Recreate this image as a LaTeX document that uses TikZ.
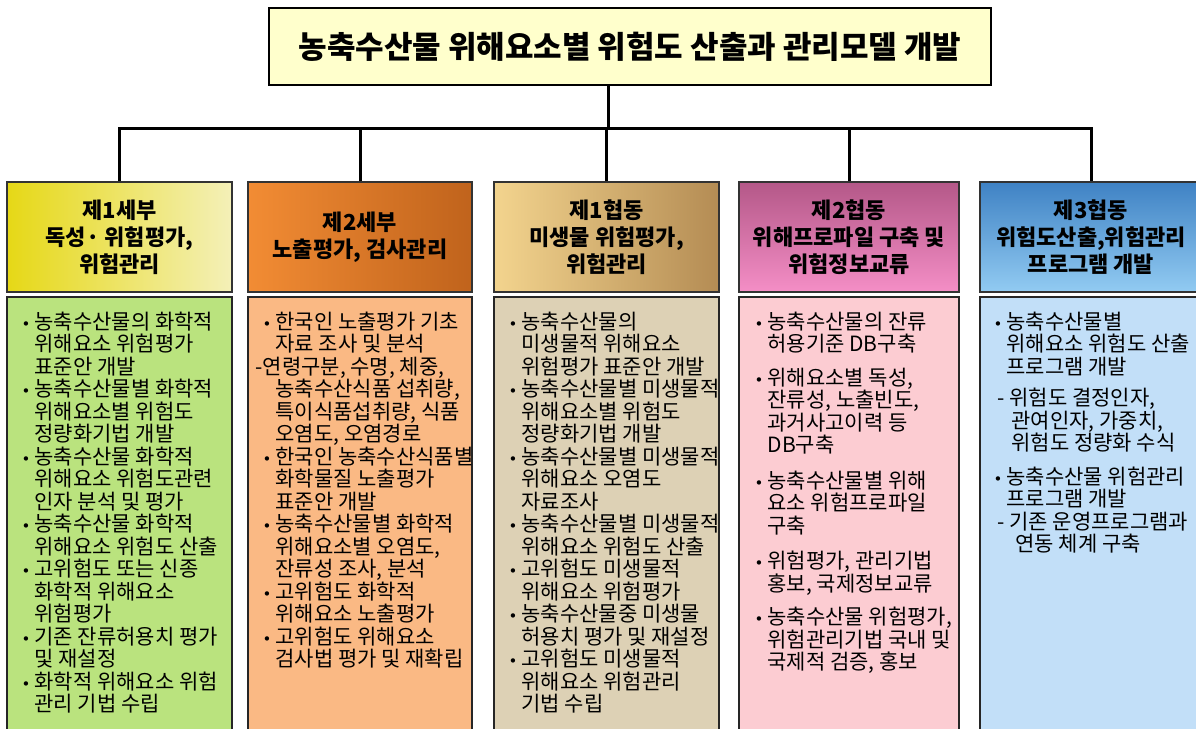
\documentclass[tikz,border=0pt]{standalone}
\usepackage{fontspec}
\setmainfont{Noto Sans CJK KR}
\newfontfamily\symfont{DejaVu Sans}
\definecolor{titlefill}{HTML}{FFFFCC}
\definecolor{bodyA}{HTML}{BAE37E}
\definecolor{bodyB}{HTML}{FAB984}
\definecolor{bodyC}{HTML}{DDD1B5}
\definecolor{bodyD}{HTML}{FCCCD2}
\definecolor{bodyE}{HTML}{C2DFF8}
\definecolor{hAa}{HTML}{E6D816}
\definecolor{hAb}{HTML}{F4F0B8}
\definecolor{hBa}{HTML}{F28C34}
\definecolor{hBb}{HTML}{C0631C}
\definecolor{hCa}{HTML}{F3D48E}
\definecolor{hCb}{HTML}{B48C54}
\definecolor{hDa}{HTML}{B45888}
\definecolor{hDb}{HTML}{F48EC6}
\definecolor{hEa}{HTML}{3F82C4}
\definecolor{hEb}{HTML}{92CBF2}
\newcommand\bu{\makebox[13pt][l]{{\symfont\fontsize{15}{15}\selectfont •}}}
\newcommand\ind{\hspace*{13pt}}
\newcommand\tightlines{\setlength{\lineskiplimit}{-100pt}}
\begin{document}
\begin{tikzpicture}[x=1pt,y=-1pt,
  titlebox/.style={draw=black, line width=1.6pt, fill=titlefill, inner sep=0pt,
    minimum width=722pt, minimum height=77pt, font=\bfseries\fontsize{31}{34}\selectfont},
  hdr/.style={draw=black!80, line width=1.5pt, inner sep=0pt, align=center,
    minimum width=#1, minimum height=110pt, font=\bfseries\fontsize{22}{27}\selectfont\tightlines},
  bodybox/.style={draw=black!85, line width=1.3pt, inner sep=0pt, minimum width=#1, minimum height=440pt},
  bodytext/.style={anchor=north west, inner sep=0pt, align=left, font=\fontsize{21}{22.5}\selectfont\tightlines},
  link/.style={line width=3pt, black}]
\useasboundingbox (0,0) rectangle (1196,728);
\clip (0,0) rectangle (1196,728);

% title
\node[titlebox] (title) at (630,46.5) {농축수산물 위해요소별 위험도 산출과 관리모델 개발};

% headers
\node[hdr=225pt, left color=hAa, right color=hAb] (h1) at (119.5,237) {제1세부\\독성· 위험평가,\\위험관리};
\node[hdr=224pt, left color=hBa, right color=hBb] (h2) at (360,237) {제2세부\\노출평가, 검사관리};
\node[hdr=225pt, left color=hCa, right color=hCb] (h3) at (606.5,237) {제1협동\\미생물 위험평가,\\위험관리};
\node[hdr=220pt, top color=hDa, bottom color=hDb] (h4) at (849,237) {제2협동\\위해프로파일 구축 및\\위험정보교류};
\node[hdr=222pt, top color=hEa, bottom color=hEb] (h5) at (1091,237) {제3협동\\위험도산출,위험관리\\프로그램 개발};

% bodies
\node[bodybox=225pt, fill=bodyA] (b1) at (119.5,517) {};
\node[bodybox=224pt, fill=bodyB] (b2) at (360,517) {};
\node[bodybox=225pt, fill=bodyC] (b3) at (606.5,517) {};
\node[bodybox=220pt, fill=bodyD] (b4) at (849,517) {};
\node[bodybox=222pt, fill=bodyE] (b5) at (1091,517) {};

% connectors
\coordinate (bus) at (608,128);
\draw[link] (title.south -| bus) -- (bus);
\draw[link] (h1.north) -- (h1.north |- bus) -- (h5.north |- bus) -- (h5.north);
\draw[link] (h2.north) -- (h2.north |- bus);
\draw[link] (h3.north) -- (h3.north |- bus);
\draw[link] (h4.north) -- (h4.north |- bus);

% body texts
\node[bodytext] (t1) at ([xshift=15pt,yshift=-15pt]b1.north west) {%
\bu 농축수산물의 화학적\\
\ind 위해요소 위험평가\\
\ind 표준안 개발\\
\bu 농축수산물별 화학적\\
\ind 위해요소별 위험도\\
\ind 정량화기법 개발\\
\bu 농축수산물 화학적\\
\ind 위해요소 위험도관련\\
\ind 인자 분석 및 평가\\
\bu 농축수산물 화학적\\
\ind 위해요소 위험도 산출\\
\bu 고위험도 또는 신종\\
\ind 화학적 위해요소\\
\ind 위험평가\\
\bu 기존 잔류허용치 평가\\
\ind 및 재설정\\
\bu 화학적 위해요소 위험\\
\ind 관리 기법 수립};

\node[bodytext] (t2) at ([xshift=15pt,yshift=-15pt]b2.north west) {%
\bu 한국인 노출평가 기초\\
\ind 자료 조사 및 분석\\
\hspace*{-7pt}-연령구분, 수명, 체중,\\
\ind 농축수산식품 섭취량,\\
\ind 특이식품섭취량, 식품\\
\ind 오염도, 오염경로\\
\bu 한국인 농축수산식품별\\
\ind 화학물질 노출평가\\
\ind 표준안 개발\\
\bu 농축수산물별 화학적\\
\ind 위해요소별 오염도,\\
\ind 잔류성 조사, 분석\\
\bu 고위험도 화학적\\
\ind 위해요소 노출평가\\
\bu 고위험도 위해요소\\
\ind 검사법 평가 및 재확립};

\node[bodytext] (t3) at ([xshift=15pt,yshift=-15pt]b3.north west) {%
\bu 농축수산물의\\
\ind 미생물적 위해요소\\
\ind 위험평가 표준안 개발\\
\bu 농축수산물별 미생물적\\
\ind 위해요소별 위험도\\
\ind 정량화기법 개발\\
\bu 농축수산물별 미생물적\\
\ind 위해요소 오염도\\
\ind 자료조사\\
\bu 농축수산물별 미생물적\\
\ind 위해요소 위험도 산출\\
\bu 고위험도 미생물적\\
\ind 위해요소 위험평가\\
\bu 농축수산물중 미생물\\
\ind 허용치 평가 및 재설정\\
\bu 고위험도 미생물적\\
\ind 위해요소 위험관리\\
\ind 기법 수립};

\node[bodytext] (t4) at ([xshift=16pt,yshift=-15pt]b4.north west) {%
\bu 농축수산물의 잔류\\
\ind 허용기준 DB구축\\[11pt]
\bu 위해요소별 독성,\\
\ind 잔류성, 노출빈도,\\
\ind 과거사고이력 등\\
\ind DB구축\\[13pt]
\bu 농축수산물별 위해\\
\ind 요소 위험프로파일\\
\ind 구축\\[13pt]
\bu 위험평가, 관리기법\\
\ind 홍보, 국제정보교류\\[11pt]
\bu 농축수산물 위험평가,\\
\ind 위험관리기법 국내 및\\
\ind 국제적 검증, 홍보};

\node[bodytext] (t5) at ([xshift=14pt,yshift=-15pt]b5.north west) {%
\bu 농축수산물별\\
\ind 위해요소 위험도 산출\\
\ind 프로그램 개발\\[9pt]
\hspace*{4pt}- 위험도 결정인자,\\
\hspace*{18pt}관여인자, 가중치,\\
\hspace*{18pt}위험도 정량화 수식\\[11pt]
\bu 농축수산물 위험관리\\
\ind 프로그램 개발\\
\hspace*{4pt}- 기존 운영프로그램과\\
\hspace*{22pt}연동 체계 구축};
\end{tikzpicture}
\end{document}
